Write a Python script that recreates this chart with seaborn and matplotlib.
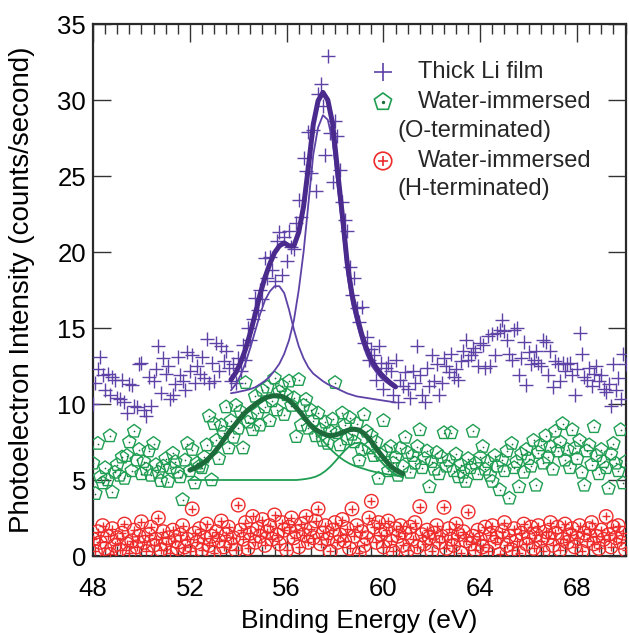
import numpy as np
import pandas as pd
import matplotlib
matplotlib.use("Agg")
import matplotlib.pyplot as plt
import seaborn as sns
from matplotlib.ticker import MultipleLocator

# ---------------- data ----------------
# binding-energy scan grid (eV), 0.1 eV steps
energy = np.linspace(48.0, 70.0, 221)

li_counts = [
    10.0, 11.4, 12.3, 13.1, 11.9, 10.9, 12.0, 10.6, 11.8, 11.6,
    10.4, 10.3, 11.6, 10.1, 9.4, 11.3, 11.25, 9.9, 9.8, 12.6,
    12.7, 9.6, 9.2, 11.8, 9.9, 11.5, 12.3, 13.8, 10.7, 13.0,
    12.0, 12.5, 10.3, 10.6, 11.3, 13.1, 11.9, 11.5, 10.9, 13.4,
    12.2, 13.2, 11.4, 12.5, 12.0, 13.1, 11.7, 14.3, 11.4, 12.7,
    11.5, 14.0, 12.2, 13.8, 12.8, 13.5, 12.4,
    11.5, 12.6, 11.4,
    13.0, 12.2, 13.9, 12.9, 15.0, 14.2, 15.6, 17.0, 16.2, 17.5,
    16.9, 19.6, 18.3, 19.7, 18.8, 18.1, 20.7, 21.3, 18.5, 21.0,
    19.4, 21.4, 20.3, 20.2, 21.9, 23.4, 22.3, 26.2, 25.3, 27.9,
    25.2, 28.0, 24.0, 30.4, 31.05, 29.6, 26.4, 32.9, 27.8, 24.6,
    28.6, 27.6, 25.4, 23.3, 22.1, 21.4, 19.0, 17.2, 18.3, 16.3,
    15.4, 16.4, 14.0, 14.4, 12.9, 13.6, 13.2, 11.6, 13.8, 12.7,
    11.0, 12.4, 12.7, 12.2, 10.6, 12.9,
    10.1, 11.6, 11.2, 12.1,
    11.0, 10.4, 12.2, 11.4, 13.8, 11.9, 10.6, 10.1, 12.4, 11.2,
    13.2, 11.5, 12.6, 10.6, 11.4, 13.0, 12.5, 12.1, 13.3, 11.8,
    12.3, 11.6, 12.8, 13.5, 14.2, 12.9, 13.2, 13.7, 13.4, 12.5,
    14.0, 13.9, 12.4, 14.5, 12.5, 14.6, 13.2, 14.7, 14.9, 15.5,
    14.8, 14.2, 13.3, 12.9, 14.9, 15.0, 11.9, 13.0, 14.1, 11.25,
    13.4, 12.6, 12.9, 13.5, 12.7, 12.5, 14.2, 14.1, 11.9, 13.5,
    11.1, 12.8, 12.6, 11.5, 12.7, 12.2, 12.6, 12.7, 11.9, 10.6,
    12.3, 14.65, 13.3, 11.8, 11.6, 12.4, 11.2, 12.0, 12.5, 11.5,
    11.9, 11.0, 10.8, 11.3, 9.9, 12.6, 10.9, 11.7, 10.3, 13.3,
    12.6,
]

o_term_counts = [
    6.1, 4.1, 7.4, 5.2, 4.8, 5.8, 5.0, 7.9, 4.2, 5.5,
    6.0, 5.3, 6.5, 5.1, 6.6, 7.5, 5.6, 8.2, 6.3, 7.0,
    5.4, 6.2, 5.7, 6.9, 5.3, 7.4, 6.0, 5.5, 4.95, 5.9,
    6.4, 4.9, 5.8, 6.75, 6.2, 5.5, 5.2, 3.7, 6.3, 7.4,
    5.6, 7.0, 4.8, 6.1, 5.9, 5.8, 6.5, 7.3, 9.2, 5.0,
    8.7, 7.6, 6.4, 8.6, 8.1, 9.8, 7.1, 8.9, 7.8, 9.9,
    8.4, 9.5, 7.1, 11.4, 8.8, 9.1, 8.3, 10.5, 9.4, 8.6,
    10.9, 9.8, 11.1, 8.9, 10.2, 11.7, 9.6, 10.8, 11.2, 9.3,
    10.6, 11.5, 9.9, 10.4, 7.85, 11.6, 8.6, 9.9, 10.3, 8.4,
    9.6, 8.9, 7.9, 9.4, 8.3, 7.6, 8.8, 7.4, 8.2, 9.0,
    11.4, 8.1, 7.3, 9.4, 8.6, 7.7, 9.1, 8.0, 7.5, 8.7,
    6.3, 7.0, 9.3, 8.2, 7.1, 7.9, 6.6, 7.5, 5.1, 6.65,
    8.9, 6.9, 5.6, 7.2, 6.1, 6.5, 5.3, 7.1, 5.9, 7.8,
    6.8, 5.5, 6.6, 6.1, 7.2, 8.3, 5.8, 6.4, 6.9, 4.55,
    6.2, 5.7, 6.8, 5.4, 6.5, 8.1, 5.9, 6.3, 8.1, 5.6,
    6.7, 5.2, 6.0, 5.5, 4.9, 6.4, 5.8, 8.2, 6.1, 5.4,
    6.5, 7.2, 5.7, 6.2, 5.3, 4.9, 6.6, 5.9, 4.35, 6.3,
    5.6, 6.9, 3.8, 7.4, 5.8, 6.2, 4.55, 6.7, 5.5, 7.0,
    6.4, 5.9, 7.6, 4.65, 6.8, 7.3, 6.1, 7.9, 6.5, 7.2,
    5.7, 8.2, 6.9, 7.5, 8.7, 6.3, 7.0, 5.8, 8.3, 7.1,
    6.4, 7.6, 5.5, 4.65, 6.9, 7.3, 6.0, 8.5, 6.6, 5.4,
    7.0, 6.2, 5.8, 4.45, 6.7, 7.4, 6.1, 5.6, 8.3, 4.8,
    6.2,
]

h_term_counts = [
    1.1, 0.3, 1.6, 0.9, 2.0, 0.5, 1.3, 0.1, 1.8, 0.7,
    1.2, 0.4, 1.5, 2.1, 0.8, 0.2, 1.0, 1.7, 0.6, 1.3,
    2.25, 0.9, 0.3, 1.4, 1.9, 0.7, 1.1, 2.5, 0.4, 1.6,
    0.8, 1.2, 0.2, 1.7, 1.0, 0.5, 1.4, 2.0, 0.6, 1.1,
    0.3, 3.1, 1.5, 0.9, 1.8, 0.4, 1.2, 2.1, 0.7, 1.3,
    0.2, 1.6, 1.0, 2.3, 0.6, 1.4, 1.9, 0.8, 1.2, 0.4,
    3.35, 1.7, 1.1, 2.2, 0.5, 1.5, 2.6, 0.9, 1.8, 1.3,
    2.4, 0.7, 1.6, 2.0, 1.1, 2.7, 1.4, 0.8, 2.2, 1.7,
    0.4, 1.9, 2.5, 1.2, 1.6, 0.6, 2.1, 1.4, 2.6, 0.9,
    1.8, 1.2, 2.3, 3.1, 0.8, 1.5, 2.0, 1.1, 0.3, 1.7,
    2.2, 0.9, 1.4, 2.4, 1.0, 1.8, 0.5, 3.1, 1.3, 2.0,
    0.2, 1.6, 0.7, 1.2, 2.5, 3.6, 1.9, 0.9, 2.2, 1.4,
    0.6, 1.7, 2.3, 1.0, 0.3, 1.8, 1.3, 2.0, 0.7, 1.5,
    0.4, 1.9, 1.1, 2.2, 0.6, 3.25, 1.4, 0.8, 1.7, 1.2,
    0.3, 1.5, 2.0, 0.9, 1.3, 3.2, 0.5, 1.8, 1.1, 0.7,
    2.1, 1.4, 0.2, 1.6, 1.0, 2.9, 0.8, 1.3, 0.4, 1.7,
    1.1, 0.6, 1.9, 0.3, 1.4, 2.0, 0.9, 1.2, 0.1, 1.6,
    2.2, 0.7, 1.3, 0.4, 1.8, 1.0, 0.2, 1.5, 2.1, 0.8,
    1.2, 1.9, 0.5, 1.4, 2.0, 1.0, 0.3, 1.6, 1.2, 2.2,
    0.7, 1.5, 1.9, 0.4, 1.1, 2.1, 0.9, 1.4, 1.8, 0.6,
    1.2, 2.0, 0.3, 1.5, 1.0, 1.8, 2.2, 0.8, 1.3, 0.5,
    1.7, 1.1, 2.6, 1.4, 0.6, 1.9, 1.2, 2.0, 0.9, 1.5,
    0.4,
]

# fitted curves
li_fit_x = np.linspace(53.7, 60.5, 35)
li_fit_total = [11.6, 12.06, 12.73, 13.6, 14.68, 15.9, 17.2, 18.3, 19.2, 19.95,
                20.4, 20.6, 20.4, 20.4, 21.3, 23.0, 25.6, 28.4, 29.95, 30.5,
                30.0, 28.45, 25.4, 22.45, 19.3, 17.2, 15.8, 14.6, 13.65, 12.9,
                12.4, 11.97, 11.65, 11.37, 11.13]
li_fit_peak1 = [10.9, 11.3, 11.9, 12.7, 13.7, 14.8, 15.9, 16.8, 17.4, 17.75,
                17.75, 17.3, 16.2, 14.9, 13.8, 13.0, 12.4, 12.0, 11.75, 11.5,
                11.3, 11.15, 11.0, 10.85, 10.7, 10.6, 10.5, 10.45, 10.4, 10.35,
                10.3, 10.25, 10.2, 10.15, 10.1]
li_fit_peak2 = [10.71, 10.76, 10.83, 10.9, 10.98, 11.1, 11.3, 11.52, 11.8, 12.2,
                12.65, 13.3, 14.2, 15.5, 17.5, 20.0, 23.2, 26.4, 28.2, 29.0,
                28.7, 27.3, 24.4, 21.6, 18.6, 16.6, 15.3, 14.15, 13.25, 12.55,
                12.1, 11.72, 11.45, 11.22, 11.03]

o_fit_x = np.linspace(52.0, 60.8, 45)
o_fit_total = [5.65, 5.78, 5.95, 6.17, 6.45, 6.8, 7.2, 7.65, 8.1, 8.5,
               8.9, 9.3, 9.6, 9.85, 10.1, 10.3, 10.45, 10.53, 10.55, 10.5,
               10.35, 10.1, 9.75, 9.38, 8.97, 8.58, 8.32, 8.12, 7.99, 7.92,
               7.96, 8.06, 8.19, 8.31, 8.34, 8.28, 8.06, 7.72, 7.31, 6.87,
               6.46, 6.08, 5.78, 5.56, 5.41]
o_fit_peak1 = [5.65, 5.78, 5.95, 6.17, 6.45, 6.8, 7.2, 7.65, 8.1, 8.5,
               8.9, 9.3, 9.6, 9.85, 10.1, 10.3, 10.45, 10.53, 10.55, 10.5,
               10.35, 10.1, 9.75, 9.35, 8.9, 8.45, 8.1, 7.75, 7.4, 7.05,
               6.75, 6.48, 6.26, 6.08, 5.93, 5.83, 5.73, 5.63, 5.55, 5.48,
               5.42, 5.36, 5.31, 5.27, 5.24]
o_fit_peak2 = [5.0, 5.0, 5.0, 5.0, 5.0, 5.0, 5.0, 5.0, 5.0, 5.0,
               5.0, 5.0, 5.0, 5.0, 5.0, 5.0, 5.0, 5.0, 5.0, 5.0,
               5.0, 5.0, 5.0, 5.03, 5.07, 5.13, 5.22, 5.37, 5.59, 5.87,
               6.21, 6.58, 6.93, 7.23, 7.41, 7.45, 7.33, 7.09, 6.76, 6.39,
               6.04, 5.72, 5.47, 5.29, 5.17]

legend_labels = ["Thick Li film", "Water-immersed", "(O-terminated)",
                 "Water-immersed", "(H-terminated)"]
x_label = "Binding Energy (eV)"
y_label = "Photoelectron Intensity (counts/second)"
x_ticks = [48, 52, 56, 60, 64, 68]
y_ticks = [0, 5, 10, 15, 20, 25, 30, 35]

# ---------------- style ----------------
PURPLE = "#5e42a6"
PURPLE_DARK = "#4b2a8e"
GREEN = "#1f9e52"
GREEN_DARK = "#1d6b3a"
RED = "#ee2c2c"

sns.set_theme(style="ticks")
plt.rcParams["font.family"] = ["Liberation Sans", "DejaVu Sans"]

fig = plt.figure(figsize=(6.29, 6.33), dpi=100)
ax = fig.add_axes([93 / 629, 1 - 556 / 633, 532.5 / 629, 532 / 633])

df_li = pd.DataFrame({"energy": energy, "counts": li_counts})
df_o = pd.DataFrame({"energy": energy, "counts": o_term_counts})
df_h = pd.DataFrame({"energy": energy, "counts": h_term_counts})

sns.scatterplot(data=df_li, x="energy", y="counts", ax=ax, marker="+", s=110,
                color=PURPLE, linewidth=1.0, legend=False, zorder=3)
sns.scatterplot(data=df_o, x="energy", y="counts", ax=ax, marker="p", s=100,
                facecolor="none", edgecolor=GREEN, linewidth=1.0, legend=False, zorder=3)
sns.scatterplot(data=df_o, x="energy", y="counts", ax=ax, marker="o", s=1.5,
                color=GREEN_DARK, linewidth=0, legend=False, zorder=3)
sns.scatterplot(data=df_h, x="energy", y="counts", ax=ax, marker="o", s=95,
                facecolor="none", edgecolor=RED, linewidth=1.0, legend=False, zorder=3)
sns.scatterplot(data=df_h, x="energy", y="counts", ax=ax, marker="+", s=35,
                color=RED, linewidth=1.0, legend=False, zorder=3)

# fit curves on top
for yv, col, lw in [(li_fit_peak1, PURPLE, 1.3), (li_fit_peak2, PURPLE, 1.3),
                    (li_fit_total, PURPLE_DARK, 3.6)]:
    sns.lineplot(x=li_fit_x, y=yv, ax=ax, color=col, linewidth=lw,
                 sort=False, estimator=None, legend=False, zorder=5)
for yv, col, lw in [(o_fit_peak1, GREEN, 1.3), (o_fit_peak2, GREEN, 1.3),
                    (o_fit_total, GREEN_DARK, 3.6)]:
    sns.lineplot(x=o_fit_x, y=yv, ax=ax, color=col, linewidth=lw,
                 sort=False, estimator=None, legend=False, zorder=5)

ax.set_xlim(48, 70)
ax.set_ylim(0, 35)
ax.set_xticks(x_ticks)
ax.set_yticks(y_ticks)
ax.xaxis.set_minor_locator(MultipleLocator(0.5))
ax.tick_params(which="both", direction="in", top=True, right=True,
               color="#333333", labelcolor="black")
ax.tick_params(which="major", length=13, width=1.0, labelsize=18.5, pad=5)
ax.tick_params(axis="x", which="major", pad=15)
ax.tick_params(which="minor", length=7, width=1.0)
for sp in ax.spines.values():
    sp.set_linewidth(1.6)
    sp.set_color("#2a2a2a")

ax.set_xlabel(x_label, fontsize=19, color="black")
ax.set_ylabel(y_label, fontsize=20, color="black")
ax.xaxis.set_label_coords(0.5, -0.1)
ax.yaxis.set_label_coords(-0.108, 0.5)

# legend (drawn as text + marker samples)
lx = 59.98
ax.scatter([lx], [31.84], marker="+", s=150, color=PURPLE, linewidth=1.2,
           clip_on=False, zorder=6)
ax.scatter([lx], [29.87], marker="p", s=170, facecolor="none", edgecolor=GREEN,
           linewidth=1.2, clip_on=False, zorder=6)
ax.scatter([lx], [29.87], marker="o", s=2, color=GREEN_DARK, clip_on=False, zorder=6)
ax.scatter([lx], [25.99], marker="o", s=160, facecolor="none", edgecolor=RED,
           linewidth=1.2, clip_on=False, zorder=6)
ax.scatter([lx], [25.99], marker="+", s=60, color=RED, linewidth=1.2,
           clip_on=False, zorder=6)
fs_leg = 17
ax.text(61.43, 31.84, legend_labels[0], va="center", ha="left", fontsize=fs_leg)
ax.text(61.43, 29.87, legend_labels[1], va="center", ha="left", fontsize=fs_leg)
ax.text(60.6, 27.96, legend_labels[2], va="center", ha="left", fontsize=fs_leg)
ax.text(61.43, 25.99, legend_labels[3], va="center", ha="left", fontsize=fs_leg)
ax.text(60.6, 24.14, legend_labels[4], va="center", ha="left", fontsize=fs_leg)

fig.savefig("out.png", dpi=100)
